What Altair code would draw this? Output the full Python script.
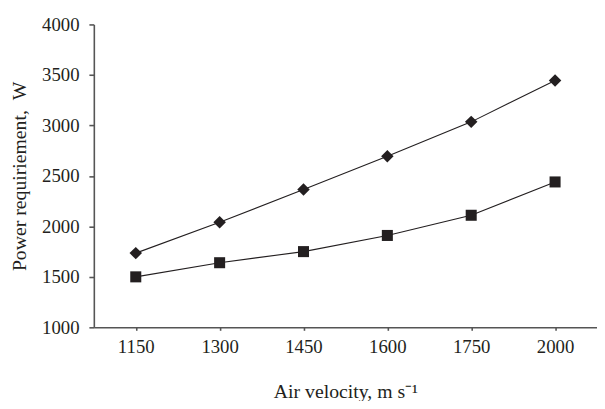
import altair as alt
import pandas as pd

velocity = ["1150", "1300", "1450", "1600", "1750", "2000"]
series_a = [1735, 2040, 2365, 2695, 3035, 3445]   # diamonds
series_b = [1500, 1640, 1750, 1910, 2110, 2440]   # squares
y_ticks = [1000, 1500, 2000, 2500, 3000, 3500, 4000]

rows = []
for v, a, b in zip(velocity, series_a, series_b):
    rows.append({"velocity": v, "power": a, "series": "A"})
    rows.append({"velocity": v, "power": b, "series": "B"})
df = pd.DataFrame(rows)

FONT = "Liberation Serif"
INK = "#231f20"

x_enc = alt.X("velocity:O", sort=velocity, scale=alt.Scale(type="point", padding=0.5),
              axis=alt.Axis(title="Air velocity, m s\u207b\u00b9", labelAngle=0,
                            titlePadding=25, tickSize=3))
y_enc = alt.Y("power:Q", scale=alt.Scale(domain=[1000, 4000]),
              axis=alt.Axis(title="Power requiriement,\u00a0\u00a0W", values=y_ticks,
                            format="d", titlePadding=12))

base = alt.Chart(df).encode(x=x_enc, y=y_enc, detail="series:N")

lines = base.mark_line(color=INK, strokeWidth=1.1)
points = base.mark_point(filled=True, opacity=1, color=INK).encode(
    shape=alt.Shape("series:N", scale=alt.Scale(domain=["A", "B"], range=["diamond", "square"]),
                    legend=None),
    size=alt.Size("series:N", scale=alt.Scale(domain=["A", "B"], range=[160, 125]),
                  legend=None),
)

chart = (lines + points).properties(
    width=510, height=307,
    autosize=alt.AutoSizeParams(type="none"),
    padding={"left": 87, "top": 14, "right": 0, "bottom": 72},
).configure_view(stroke=None).configure_axis(
    grid=False,
    domainColor="#555555",
    domainWidth=1.6,
    tickColor="#555555",
    tickWidth=1.6,
    tickSize=5,
    labelFont=FONT,
    labelFontSize=19,
    labelColor=INK,
    labelPadding=10,
    titleFont=FONT,
    titleFontSize=20,
    titleFontWeight="normal",
    titleColor=INK,
).configure_axisX(labelPadding=8)

chart.save("out.html", embed_options={"renderer": "svg", "actions": False})
